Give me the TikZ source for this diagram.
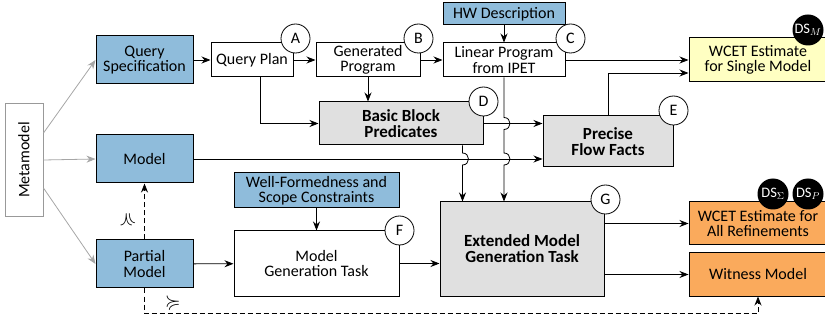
\documentclass[tikz,border=0pt]{standalone}
\usepackage{fontspec}
\setmainfont{Carlito}
\usepackage{amssymb}
\usetikzlibrary{arrows.meta}
\definecolor{specblue}{RGB}{143,188,219}
\definecolor{stepgray}{RGB}{224,224,224}
\definecolor{resyellow}{RGB}{255,255,194}
\definecolor{resorange}{RGB}{250,170,92}
\tikzset{
  box/.style={draw,line width=1pt,align=center,inner sep=1pt,font=\fontsize{16}{15.5}\selectfont},
  spec/.style={box,fill=specblue},
  task/.style={box,fill=stepgray,font=\fontsize{17}{16}\selectfont\bfseries},
  tag/.style={circle,draw,fill=white,line width=0.8pt,minimum size=29pt,inner sep=0pt,font=\fontsize{16}{16}\selectfont},
  dsbadge/.style={circle,fill=black,text=white,minimum size=31pt,inner sep=0pt,font=\fontsize{14.5}{15}\selectfont},
  flow/.style={line width=0.8pt,-{Stealth[length=9pt,width=7pt]}},
  metaflow/.style={flow,draw=black!35,-{Stealth[length=9pt,width=7pt,black!35]}},
  refines/.style={flow,dash pattern=on 5pt off 3pt},
  rellabel/.style={inner sep=0pt}
}
\begin{document}
\begin{tikzpicture}[x=1pt,y=-1pt]
\useasboundingbox (0,0) rectangle (825,323);
% inputs
\node[box,draw=black!40,minimum width=38pt,minimum height=113pt] (mm) at (24,160) {\rotatebox{90}{Metamodel}};
\node[spec,minimum width=97pt,minimum height=48pt] (qs) at (144.5,60) {Query\\Specification};
\node[spec,minimum width=97pt,minimum height=48pt] (model) at (144.5,159) {Model};
\node[spec,minimum width=97pt,minimum height=48pt] (pm) at (144.5,264) {Partial\\Model};
\node[spec,minimum width=122pt,minimum height=22pt] (hw) at (504,14) {HW Description};
\node[spec,minimum width=165pt,minimum height=35pt] (wf) at (316.5,190.5) {Well-Formedness and\\Scope Constraints};
% steps
\node[box,minimum width=82pt,minimum height=34pt] (qp) at (252,60) {Query Plan};
\node[box,minimum width=104pt,minimum height=34pt] (gp) at (368,60) {Generated\\Program};
\node[box,minimum width=122pt,minimum height=34pt] (lp) at (504,60) {Linear Program\\from IPET};
\node[task,minimum width=164pt,minimum height=43pt] (bbp) at (401,123.5) {Basic Block\\Predicates};
\node[task,minimum width=130pt,minimum height=51pt] (pff) at (608,141.5) {Precise\\Flow Facts};
\node[box,minimum width=165pt,minimum height=65pt] (mgt) at (316.5,263.5) {Model\\Generation Task};
\node[task,minimum width=164pt,minimum height=94pt] (emgt) at (522,249) {Extended Model\\Generation Task};
% results
\node[box,fill=resyellow,minimum width=138pt,minimum height=44pt] (ws) at (758,60) {WCET Estimate\\for Single Model};
\node[box,fill=resorange,minimum width=138pt,minimum height=43pt] (wa) at (758,223.5) {WCET Estimate for\\All Refinements};
\node[box,fill=resorange,minimum width=138pt,minimum height=43pt] (wm) at (758,274.5) {Witness Model};
% connectors
\draw[metaflow] ([yshift=27pt]mm.east) -- (qs.west);
\draw[metaflow] (mm.east) -- (model.west);
\draw[metaflow] ([yshift=-28pt]mm.east) -- (pm.west);
\draw[flow] (qs) -- (qp);
\draw[flow] (qp) -- (gp);
\draw[flow] (gp) -- (lp);
\draw[flow] (hw) -- (lp);
\draw[flow] ([xshift=8pt]qp.south) |- (bbp.west);
\draw[flow] (gp.south) -- (gp.south |- bbp.north);
\draw[flow] (lp.east) -- (ws.west);
\draw[flow] (pff.north) |- ([yshift=-13pt]ws.west);
\draw[flow] (bbp.east) -- (bbp.east -| pff.west);
\draw[flow] (model.east) -- (model.east -| pff.west);
\coordinate (bbpdown) at ([xshift=-21pt]bbp.south east);
\draw[flow] (lp.south) -- ([yshift=6pt]lp.south |- bbp.east)
  .. controls +(8,0) and +(8,0) .. ([yshift=-6pt]lp.south |- bbp.east)
  -- ([yshift=6pt]lp.south |- model.east)
  .. controls +(8,0) and +(8,0) .. ([yshift=-6pt]lp.south |- model.east)
  -- (lp.south |- emgt.north);
\draw[flow] (bbpdown) -- ([yshift=6pt]bbpdown |- model.east)
  .. controls +(8,0) and +(8,0) .. ([yshift=-6pt]bbpdown |- model.east)
  -- (bbpdown |- emgt.north);
\draw[flow] (wf) -- (mgt);
\draw[flow] (pm) -- (mgt);
\draw[flow] (mgt.east) -- (mgt.east -| emgt.west);
\draw[flow] (emgt.east |- wa.west) -- (wa.west);
\draw[flow] (emgt.east |- wm.west) -- (wm.west);
\draw[refines] (pm.north) -- (model.south);
\draw[refines] (pm.south) -- ++(0,25) -| (wm.south);
\node[rellabel,rotate=90] (refup) at (127,220) {\scalebox{2}{$\succcurlyeq$}};
\node[rellabel] (refright) at (173,303) {\scalebox{2}{$\succcurlyeq$}};
% tags
\node[tag] (tA) at ([xshift=2pt,yshift=4pt]qp.north east) {A};
\node[tag] (tB) at ([xshift=-2pt,yshift=4pt]gp.north east) {B};
\node[tag] (tC) at ([xshift=5pt,yshift=4pt]lp.north east) {C};
\node[tag] (tD) at (bbp.north east) {D};
\node[tag] (tE) at ([yshift=5pt]pff.north east) {E};
\node[tag] (tF) at (mgt.north east) {F};
\node[tag] (tG) at ([xshift=1pt,yshift=2pt]emgt.north east) {G};
\node[dsbadge] (dsM) at (808,30) {DS$_M$};
\node[dsbadge] (dsS) at (773,194) {DS$_\Sigma$};
\node[dsbadge] (dsP) at (808,194) {DS$_P$};
\end{tikzpicture}
\end{document}
